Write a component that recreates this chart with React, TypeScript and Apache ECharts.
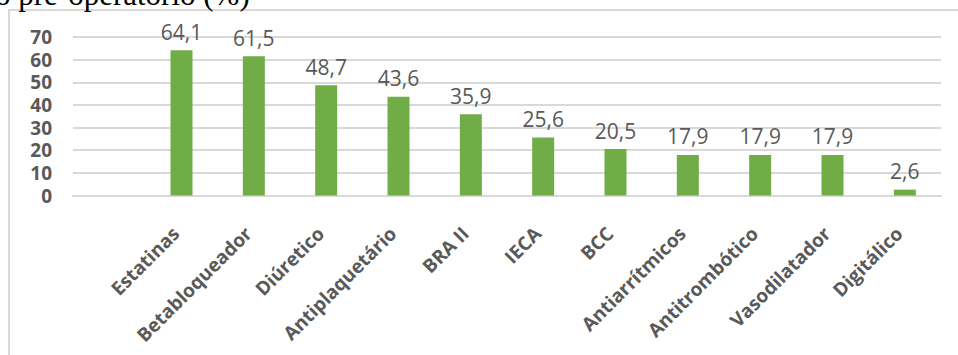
import React, { useEffect, useRef } from "react";
import * as echarts from "echarts";

const categories = ["", "Estatinas", "Betabloqueador", "Diúretico", "Antiplaquetário", "BRA II", "IECA", "BCC", "Antiarrítmicos", "Antitrombótico", "Vasodilatador", "Digitálico"];
const values: (number | null)[] = [null, 64.1, 61.5, 48.7, 43.6, 35.9, 25.6, 20.5, 17.9, 17.9, 17.9, 2.6];
const yTicks = { min: 0, max: 70, interval: 10 };
const headingText = "o pré-operatório (%)";

export default function App() {
  const ref = useRef<HTMLDivElement>(null);
  useEffect(() => {
    if (!ref.current) return;
    const chart = echarts.init(ref.current, null, { renderer: "svg" });
    chart.setOption({
      animation: false,
      backgroundColor: "#ffffff",
      graphic: [
        {
          type: "rect",
          shape: { x: 9, y: 10, width: 1000, height: 400 },
          style: { fill: "none", stroke: "#d9d9d9", lineWidth: 2 },
          silent: true,
        },
        {
          type: "text",
          x: -5,
          y: -5.5,
          style: {
            text: headingText,
            font: "31px 'Liberation Serif', serif",
            fill: "#000000",
            verticalAlign: "middle",
            align: "left",
          },
        },
      ],
      grid: { left: 73, right: 17, top: 37, bottom: 159.5 },
      xAxis: {
        type: "category",
        data: categories,
        axisLine: { show: true, lineStyle: { color: "#d9d9d9", width: 2 } },
        axisTick: { show: false },
        axisLabel: {
          interval: 0,
          rotate: 45,
          margin: 29,
          padding: [0, 8, 0, 0],
          color: "#595959",
          fontFamily: "Open Sans",
          fontWeight: "bold",
          fontSize: 19,
        },
      },
      yAxis: {
        type: "value",
        min: yTicks.min,
        max: yTicks.max,
        interval: yTicks.interval,
        axisLine: { show: false },
        axisTick: { show: false },
        splitLine: { lineStyle: { color: "#d9d9d9", width: 2 } },
        axisLabel: {
          margin: 21,
          color: "#595959",
          fontFamily: "Open Sans",
          fontWeight: "bold",
          fontSize: 19,
          lineHeight: 18,
        },
      },
      series: [
        {
          type: "bar",
          data: values,
          barWidth: 22,
          itemStyle: { color: "#70ad47" },
          label: {
            show: true,
            position: "top",
            distance: 8,
            color: "#595959",
            fontFamily: "Open Sans",
            fontSize: 21,
            formatter: (p: any) => (p.value == null ? "" : String(p.value).replace(".", ",")),
          },
        },
      ],
    });
    return () => chart.dispose();
  }, []);
  return <div ref={ref} style={{ width: 958, height: 355, position: "absolute", left: 0, top: 0 }} />;
}
